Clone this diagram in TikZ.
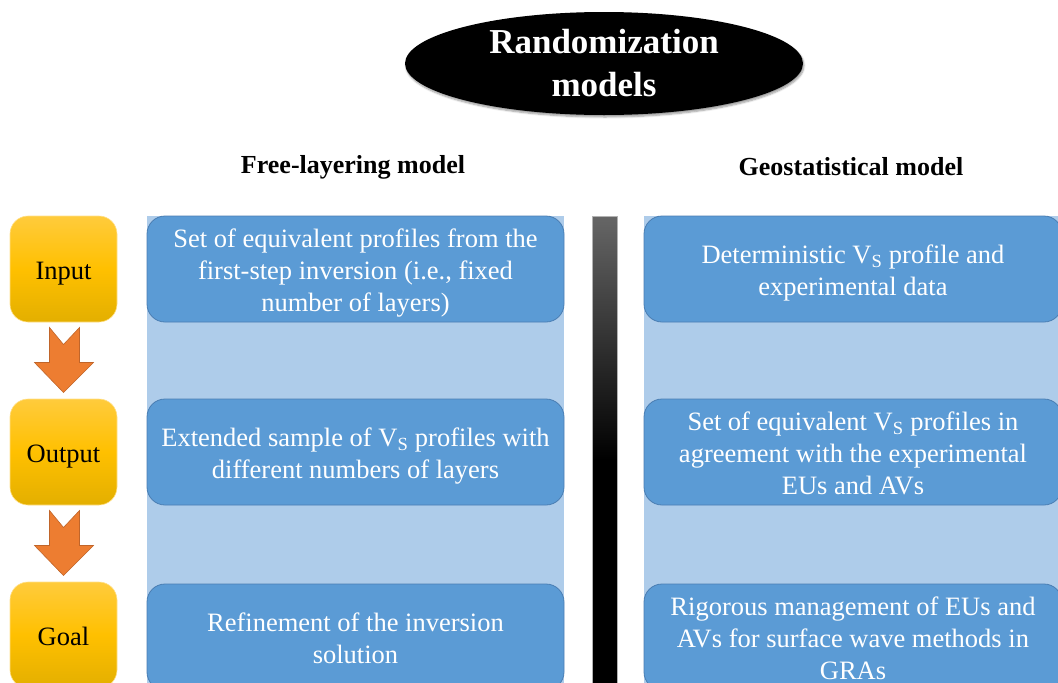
\documentclass[tikz,border=0pt]{standalone}
\usepackage{fontspec}
\setmainfont{Liberation Serif}
\usetikzlibrary{shapes.geometric,shadows.blur,calc}
\definecolor{dkblue}{HTML}{5B9BD5}
\definecolor{dkblueline}{HTML}{4A7EB3}
\definecolor{ltblue}{HTML}{AECCEA}
\definecolor{gold1}{HTML}{FFCB3C}
\definecolor{gold2}{HTML}{FFC000}
\definecolor{gold3}{HTML}{E3AF00}
\definecolor{arrfill}{HTML}{ED7D31}
\definecolor{arrline}{HTML}{C0652A}
\newcommand\boxlines[1]{\raisebox{-4pt}[\height][\depth]{\begin{tabular}{@{}c@{}}#1\end{tabular}}}
\begin{document}
\begin{tikzpicture}[x=1pt,y=-1pt,
  stagebox/.style={rectangle,rounded corners=18pt,minimum width=107pt,minimum height=106pt,
    top color=gold1,bottom color=gold3,middle color=gold2,draw=gold1!60!white,line width=0.6pt,
    font=\fontsize{26.5}{32}\selectfont,text=black},
  infobox/.style={rectangle,rounded corners=18pt,minimum height=106pt,fill=dkblue,draw=dkblueline,
    line width=0.8pt,font=\fontsize{26.5}{32}\selectfont,text=white,inner sep=2pt},
  colbg/.style={fill=ltblue},
  header/.style={font=\bfseries\fontsize{26}{31}\selectfont,text=black},
  darrow/.pic={\draw[fill=arrfill,draw=arrline,line width=0.6pt,line join=miter]
     (-14,-33) -- (0,-16) -- (16,-33) -- (16,2) -- (30,2) -- (0,32) -- (-29,2) -- (-14,2) -- cycle;}
]
\useasboundingbox (0,0) rectangle (1058,683);
\clip (0,0) rectangle (1058,683);
% title ellipse
\node[ellipse,fill=black,minimum width=398pt,minimum height=103pt,inner sep=0pt,
  blur shadow={shadow xshift=1pt,shadow yshift=-2pt,shadow blur steps=6,shadow opacity=40},
  text=white,align=center,font=\bfseries\fontsize{35}{42}\selectfont] (title) at (604,63.5)
  {Randomization\\[1pt]models};
% headers
\node[header] (hfree) at (353,167) {Free-layering model};
\node[header] (hgeo) at (851,167) {Geostatistical model};
% column backgrounds
\fill[colbg] (147,216) rectangle (564,700);
\fill[colbg] (644,216) rectangle (1070,700);
% separator bar
\shade[top color=black!60,bottom color=black,middle color=black!80] (592,216) rectangle (617,460);
\fill[black] (592,459) rectangle (617,700);
\draw[black!30,line width=0.4pt] (592,700) -- (592,216) -- (617,216) -- (617,700);
% stage boxes
\node[stagebox] (in) at (63.5,269) {\boxlines{Input}};
\node[stagebox] (out) at (63.5,452) {\boxlines{Output}};
\node[stagebox] (goal) at (63.5,635) {\boxlines{Goal}};
\pic at ($(in.south)!0.5!(out.north)$) {darrow};
\pic at ($(out.south)!0.5!(goal.north)$) {darrow};
% left column
\node[infobox,minimum width=417pt] (f1) at (355.5,269)
  {\boxlines{Set of equivalent profiles from the\\first-step inversion (i.e., fixed\\number of layers)}};
\node[infobox,minimum width=417pt] (f2) at (355.5,452)
  {\boxlines{Extended sample of V\textsubscript{S} profiles with\\different numbers of layers}};
\node[infobox,minimum width=417pt] (f3) at (355.5,637)
  {\boxlines{Refinement of the inversion\\solution}};
% right column
\node[infobox,minimum width=418pt] (g1) at (853,269)
  {\boxlines{Deterministic V\textsubscript{S} profile and\\experimental data}};
\node[infobox,minimum width=418pt] (g2) at (853,452)
  {\boxlines{Set of equivalent V\textsubscript{S} profiles in\\agreement with the experimental\\EUs and AVs}};
\node[infobox,minimum width=418pt] (g3) at (853,637)
  {\boxlines{Rigorous management of EUs and\\AVs for surface wave methods in\\GRAs}};
\end{tikzpicture}
\end{document}
